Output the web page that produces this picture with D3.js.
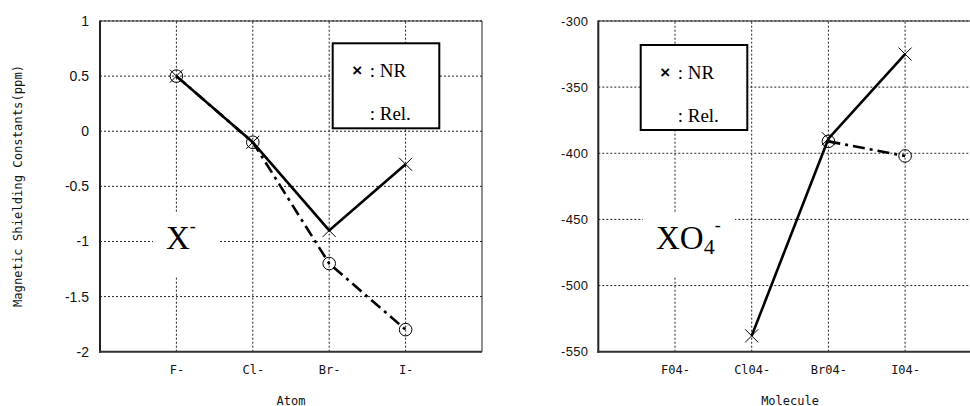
<!DOCTYPE html>
<html><head><meta charset="utf-8">
<script src="https://cdn.jsdelivr.net/npm/d3@7"></script>
<style>
html,body{margin:0;padding:0;background:#fff;overflow:hidden}
svg{display:block}
</style></head>
<body>
<svg id="c" width="970" height="406"></svg>
<script>
// ---- data ----
const atoms = ["F-", "Cl-", "Br-", "I-"];
const atomNR = [0.5, -0.1, -0.9, -0.3];
const atomRel = [0.5, -0.1, -1.2, -1.8];
const atomYTicks = [1, 0.5, 0, -0.5, -1, -1.5, -2];

const molecules = ["F04-", "Cl04-", "Br04-", "I04-"];
const molNR = [null, -538, -389, -325];
const molRel = [null, null, -391, -402];
const molYTicks = [-300, -350, -400, -450, -500, -550];

const svg = d3.select("#c");

function panel(cfg) {
  const g = svg.append("g");
  const x = d3.scaleLinear().domain([0, 5]).range([cfg.left, cfg.right]);
  const y = d3.scaleLinear().domain(cfg.yDomain).range([351.7, 21]);
  const xi = i => x(i + 1);

  // grid
  const grid = g.append("g").attr("stroke", "#222").attr("stroke-width", 1).attr("stroke-dasharray", "2,2");
  cfg.yTicks.forEach(t => {
    grid.append("line").attr("x1", cfg.left).attr("x2", cfg.right).attr("y1", y(t)).attr("y2", y(t));
  });
  cfg.cats.forEach((c, i) => {
    grid.append("line").attr("x1", xi(i)).attr("x2", xi(i)).attr("y1", y(cfg.yDomain[0])).attr("y2", y(cfg.yDomain[1]));
  });

  // white box behind big label
  g.append("rect").attr("x", cfg.lblBox[0]).attr("y", 213).attr("width", cfg.lblBox[1] - cfg.lblBox[0]).attr("height", 64).attr("fill", "#fff");

  // y axis labels
  const yAxis = d3.axisLeft(y).tickValues(cfg.yTicks).tickSize(0).tickPadding(cfg.tickPad)
    .tickFormat(d => String(d));
  const ya = g.append("g").attr("transform", `translate(${cfg.left},0)`).call(yAxis);
  ya.select(".domain").remove();
  ya.selectAll("text").attr("font-family", "Liberation Sans, Arial, sans-serif")
    .attr("font-size", cfg.yFont).attr("fill", "#111").attr("letter-spacing", cfg.ySpacing);

  // x axis labels
  const xAxis = d3.axisBottom(x).tickValues(cfg.cats.map((c, i) => i + 1)).tickSize(0).tickPadding(14)
    .tickFormat((d) => cfg.cats[d - 1]);
  const xa = g.append("g").attr("transform", "translate(0,351.7)").call(xAxis);
  xa.select(".domain").remove();
  xa.selectAll("text").attr("font-family", "DejaVu Sans Mono, monospace").attr("font-size", 12).attr("fill", "#111");

  // lines
  const line = d3.line().defined(d => d.v !== null).x(d => xi(d.i)).y(d => y(d.v));
  const rel = cfg.rel.map((v, i) => ({ v, i }));
  const nr = cfg.nr.map((v, i) => ({ v, i }));
  g.append("path").attr("d", line(rel)).attr("fill", "none").attr("stroke", "#000")
    .attr("stroke-width", 2.6).attr("stroke-dasharray", "12,5,3,5");
  g.append("path").attr("d", line(nr)).attr("fill", "none").attr("stroke", "#000").attr("stroke-width", 2.6);

  // markers
  rel.filter(d => d.v !== null).forEach(d => {
    g.append("circle").attr("cx", xi(d.i)).attr("cy", y(d.v)).attr("r", 6.3)
      .attr("fill", "none").attr("stroke", "#000").attr("stroke-width", 1);
  });
  nr.filter(d => d.v !== null).forEach(d => {
    const cx = xi(d.i), cy = y(d.v), s = 6.5;
    g.append("path").attr("d", `M${cx - s},${cy - s}L${cx + s},${cy + s}M${cx - s},${cy + s}L${cx + s},${cy - s}`)
      .attr("stroke", "#000").attr("stroke-width", 1).attr("fill", "none");
  });

  // legend
  const L = cfg.legend;
  g.append("rect").attr("x", L[0]).attr("y", L[1]).attr("width", L[2] - L[0]).attr("height", L[3] - L[1])
    .attr("fill", "#fff").attr("stroke", "#000").attr("stroke-width", 2);
  g.append("text").attr("x", L[0] + 24.5).attr("y", L[1] + 33).attr("text-anchor", "middle")
    .attr("font-family", "Liberation Sans, Arial, sans-serif").attr("font-size", 17).attr("font-weight", "bold").text("×");
  g.append("text").attr("x", L[0] + 37).attr("y", L[1] + 34)
    .attr("font-family", "Liberation Serif, Times New Roman, serif").attr("font-size", 19).text(": NR");
  g.append("text").attr("x", L[0] + 37).attr("y", L[1] + 77)
    .attr("font-family", "Liberation Serif, Times New Roman, serif").attr("font-size", 19).text(": Rel.");

  // big label
  const bl = g.append("text").attr("x", cfg.lblX).attr("y", 248.5)
    .attr("font-family", "Liberation Serif, Times New Roman, serif").attr("font-size", 33);
  cfg.label(bl);

  // frame
  const f = g.append("g");
  f.append("line").attr("x1", cfg.left).attr("x2", cfg.right).attr("y1", 21).attr("y2", 21).attr("stroke", "#222").attr("stroke-width", 1);
  f.append("line").attr("x1", cfg.right).attr("x2", cfg.right).attr("y1", 21).attr("y2", 351.7).attr("stroke", "#222").attr("stroke-width", 1);
  f.append("line").attr("x1", cfg.left).attr("x2", cfg.left).attr("y1", 20.5).attr("y2", 352.7).attr("stroke", "#222").attr("stroke-width", 2);
  f.append("line").attr("x1", cfg.left - 1).attr("x2", cfg.right).attr("y1", 351.7).attr("y2", 351.7).attr("stroke", "#333").attr("stroke-width", 2);

  // x title
  g.append("text").attr("x", (cfg.left + cfg.right) / 2).attr("y", 404.5).attr("text-anchor", "middle")
    .attr("font-family", "DejaVu Sans Mono, monospace").attr("font-size", 12).attr("fill", "#111").text(cfg.xTitle);
}

panel({
  left: 100, right: 482, yDomain: [-2, 1], yTicks: atomYTicks, cats: atoms,
  nr: atomNR, rel: atomRel, tickPad: 11, yFont: 14, ySpacing: 0,
  legend: [332.7, 43.3, 439.3, 128.3], lblBox: [153, 218], lblX: 166,
  xTitle: "Atom",
  label: t => { t.append("tspan").text("X"); t.append("tspan").attr("dy", -17).attr("font-size", 18).text("-"); }
});

panel({
  left: 598.3, right: 981.8, yDomain: [-550, -300], yTicks: molYTicks, cats: molecules,
  nr: molNR, rel: molRel, tickPad: 10, yFont: 13, ySpacing: 0.3,
  legend: [640.7, 45, 747.3, 130], lblBox: [643, 735], lblX: 656,
  xTitle: "Molecule",
  label: t => {
    t.append("tspan").text("XO");
    t.append("tspan").attr("dy", 5).attr("font-size", 22).text("4");
    t.append("tspan").attr("dy", -23).attr("font-size", 18).text("-");
  }
});

// y title (left)
svg.append("text").attr("transform", "translate(22,186) rotate(-90)").attr("text-anchor", "middle")
  .attr("font-family", "DejaVu Sans Mono, monospace").attr("font-size", 12.2).attr("fill", "#111")
  .text("Magnetic Shielding Constants(ppm)");
</script>
</body></html>
